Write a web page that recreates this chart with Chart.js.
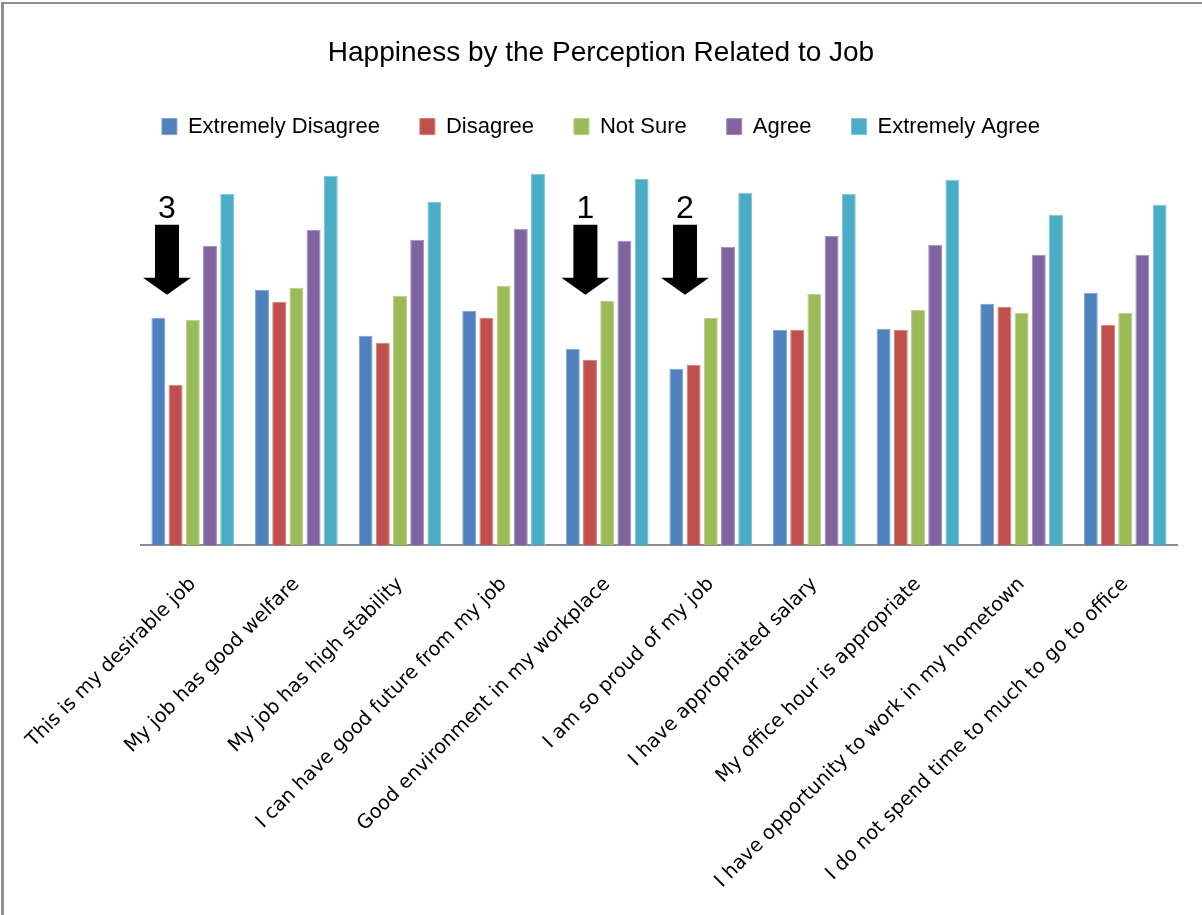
<!DOCTYPE html>
<html>
<head>
<meta charset="utf-8">
<title>Happiness by the Perception Related to Job</title>
<script src="https://cdn.jsdelivr.net/npm/chart.js@4.4.0/dist/chart.umd.min.js"></script>
<style>
  html, body { margin: 0; padding: 0; background: #ffffff; }
  #wrap { width: 1202px; height: 915px; position: relative; }
  canvas { display: block; }
</style>
</head>
<body>
<div id="wrap"><canvas id="chart" width="1202" height="915"></canvas></div>
<script>
// Survey statements (x categories)
const categories = [
  'This is my desirable job',
  'My job has good welfare',
  'My job has high stability',
  'I can have good future from my job',
  'Good environment in my workplace',
  'I am so proud of my job',
  'I have appropriated salary',
  'My office hour is appropriate',
  'I have opportunity to work in my hometown',
  'I do not spend time to much to go to office'
];

// Response groups (legend order)
const seriesNames = ['Extremely Disagree', 'Disagree', 'Not Sure', 'Agree', 'Extremely Agree'];

// Happiness level per response group, one value per statement
const extremelyDisagree = [4.54, 5.10, 4.18, 4.68, 3.92, 3.52, 4.30, 4.32, 4.82, 5.04];
const disagree          = [3.20, 4.86, 4.04, 4.54, 3.70, 3.60, 4.30, 4.30, 4.76, 4.40];
const notSure           = [4.50, 5.14, 4.98, 5.18, 4.88, 4.54, 5.02, 4.70, 4.64, 4.64];
const agree             = [5.98, 6.30, 6.10, 6.32, 6.08, 5.96, 6.18, 6.00, 5.80, 5.80];
const extremelyAgree    = [7.02, 7.38, 6.86, 7.42, 7.32, 7.04, 7.02, 7.30, 6.60, 6.80];

// Ranked call-outs placed above selected statements
const rankNotes = [
  { category: 0, label: '3' },
  { category: 4, label: '1' },
  { category: 5, label: '2' }
];

const seriesValues = [extremelyDisagree, disagree, notSure, agree, extremelyAgree];
const fills   = ['#4F81BD', '#C0504D', '#9BBB59', '#8064A2', '#4BACC6'];
const edges   = ['#7DA2D0', '#D27C7A', '#B7CF86', '#A08BBC', '#7CC3D6'];

const datasets = seriesNames.map((name, i) => ({
  label: name,
  data: seriesValues[i],
  backgroundColor: fills[i],
  borderColor: edges[i],
  borderWidth: 1,
  categoryPercentage: 0.83,
  barPercentage: 0.81
}));

// Outer frame on the top and left edges
const framePlugin = {
  id: 'frame',
  beforeDraw(chart) {
    const ctx = chart.ctx;
    ctx.save();
    ctx.fillStyle = '#ffffff';
    ctx.fillRect(0, 0, chart.width, chart.height);
    ctx.fillStyle = '#8f8f8f';
    ctx.fillRect(1, 2, chart.width - 1, 2);
    ctx.fillRect(1, 2, 3, chart.height - 2);
    ctx.restore();
  }
};

// Down arrows with rank numbers
const rankArrows = {
  id: 'rankArrows',
  afterDatasetsDraw(chart, args, opts) {
    const ctx = chart.ctx;
    const yScale = chart.scales.y;
    const m0 = chart.getDatasetMeta(0);
    const m1 = chart.getDatasetMeta(1);
    const sw = opts.shaftWidth, hw = opts.headWidth;
    ctx.save();
    rankNotes.forEach((n, k) => {
      const cx = (m0.data[n.category].x + m1.data[n.category].x) / 2 + (opts.nudge[k] || 0);
      const tip = yScale.getPixelForValue(opts.tipValue);
      const base = tip - opts.headHeight;
      const top = base - opts.shaftHeight;
      ctx.fillStyle = '#000000';
      ctx.beginPath();
      ctx.moveTo(cx - sw / 2, top);
      ctx.lineTo(cx + sw / 2, top);
      ctx.lineTo(cx + sw / 2, base);
      ctx.lineTo(cx + hw / 2, base);
      ctx.lineTo(cx, tip);
      ctx.lineTo(cx - hw / 2, base);
      ctx.lineTo(cx - sw / 2, base);
      ctx.closePath();
      ctx.fill();
      ctx.font = '32px "Liberation Sans", Arial, sans-serif';
      ctx.textAlign = 'center';
      ctx.textBaseline = 'alphabetic';
      ctx.fillText(n.label, cx, top - 7);
    });
    ctx.restore();
  }
};

new Chart(document.getElementById('chart'), {
  type: 'bar',
  data: { labels: categories, datasets },
  plugins: [framePlugin, rankArrows],
  options: {
    responsive: false,
    devicePixelRatio: 1,
    animation: false,
    layout: { padding: { left: 0, right: 0, top: 0, bottom: 0 } },
    plugins: {
      title: {
        display: true,
        text: 'Happiness by the Perception Related to Job',
        color: '#000000',
        font: { family: '"Liberation Sans", Arial, sans-serif', size: 28, weight: 'normal' },
        padding: { top: 36, bottom: 6 }
      },
      legend: {
        display: true,
        position: 'top',
        labels: {
          color: '#000000',
          font: { family: '"Liberation Sans", Arial, sans-serif', size: 22 },
          boxWidth: 15,
          boxHeight: 16,
          padding: 40
        }
      },
      tooltip: { enabled: false },
      rankArrows: {
        tipValue: 5.0,
        headHeight: 17,
        shaftHeight: 53,
        shaftWidth: 24,
        headWidth: 48,
        nudge: [0, 4, 0]
      }
    },
    scales: {
      x: {
        grid: { display: false, drawTicks: false },
        border: { display: true, color: '#8c8c8c', width: 2 },
        ticks: {
          autoSkip: false,
          minRotation: 45,
          maxRotation: 45,
          padding: 28,
          color: '#000000',
          font: { family: '"DejaVu Sans", Verdana, sans-serif', size: 19.5 }
        },
        afterFit(scale) {
          scale.height = 370;
          scale.paddingLeft = 0;
          scale.paddingRight = 0;
        }
      },
      y: {
        min: 0,
        max: 7.94,
        grid: { display: false },
        border: { display: false },
        ticks: { display: false },
        afterFit(scale) { scale.width = 141; }
      },
      yRight: {
        position: 'right',
        min: 0,
        max: 1,
        grid: { display: false },
        border: { display: false },
        ticks: { display: false },
        afterFit(scale) { scale.width = 25; }
      }
    }
  }
});
</script>
</body>
</html>
